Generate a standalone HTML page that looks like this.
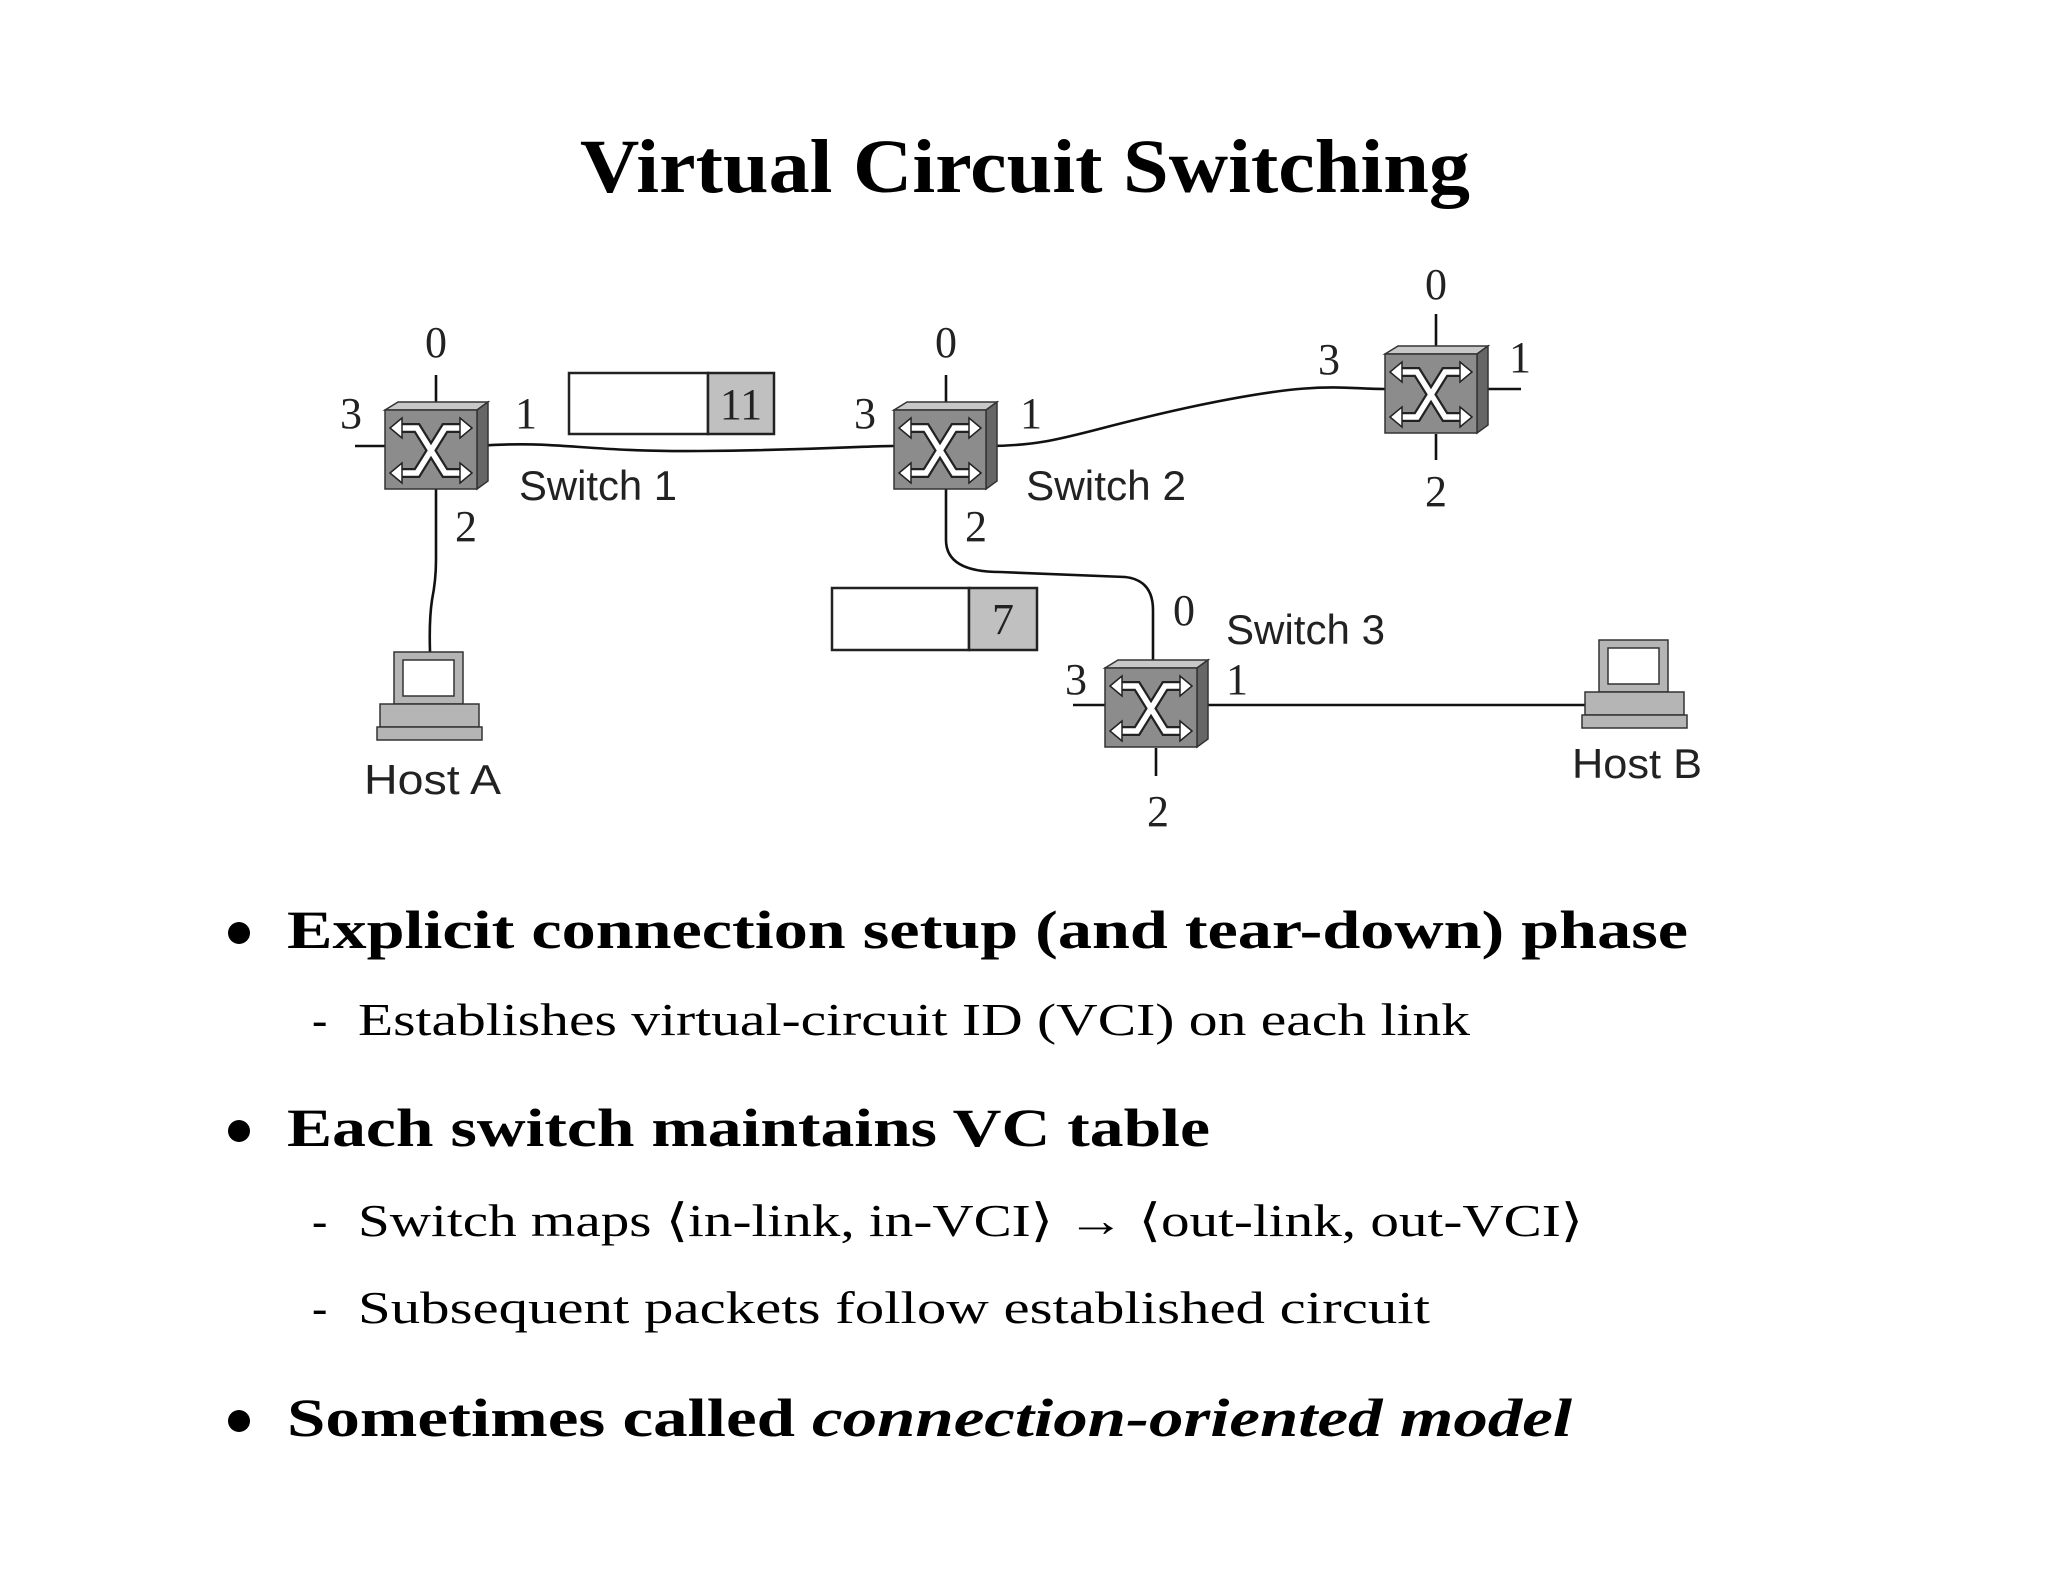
<!DOCTYPE html>
<html><head><meta charset="utf-8"><style>html,body{margin:0;padding:0;background:#fff}svg{display:block}</style></head>
<body>
<svg width="2048" height="1582" viewBox="0 0 2048 1582" xmlns="http://www.w3.org/2000/svg">
<defs>
<g id="sw">
  <polygon points="0,0 13,-8 103,-8 92,0" fill="#c8c8c8" stroke="#333" stroke-width="1.5"/>
  <polygon points="92,0 103,-8 103,71 92,79" fill="#666" stroke="#333" stroke-width="1.5"/>
  <rect x="0" y="0" width="92" height="79" fill="#8c8c8c" stroke="#333" stroke-width="1.5"/>
  <g fill="none" stroke-linejoin="miter">
    <path d="M14 18 H32 L60 63 H78 M14 63 H32 L60 18 H78" stroke="#222" stroke-width="10"/>
    <path d="M14 18 H32 L60 63 H78 M14 63 H32 L60 18 H78" stroke="#fff" stroke-width="5.5"/>
  </g>
  <g fill="#fff" stroke="#222" stroke-width="1.5">
    <polygon points="5,18 17,8 17,28"/><polygon points="87,18 75,8 75,28"/>
    <polygon points="5,63 17,53 17,73"/><polygon points="87,63 75,53 75,73"/>
  </g>
</g>
<g id="host">
  <rect x="15" y="0" width="69" height="52" fill="#b5b5b5" stroke="#333" stroke-width="1.5"/>
  <rect x="24" y="8" width="51" height="36" fill="#fff" stroke="#333" stroke-width="1.5"/>
  <rect x="1" y="52" width="99" height="23" fill="#b5b5b5" stroke="#333" stroke-width="1.5"/>
  <rect x="-2" y="75" width="105" height="13" fill="#b5b5b5" stroke="#333" stroke-width="1.5"/>
</g>
</defs>

<text x="580" y="192" font-family="'Liberation Serif',serif" font-weight="bold" font-size="76" textLength="890" lengthAdjust="spacingAndGlyphs">Virtual Circuit Switching</text>

<g stroke="#111" stroke-width="2.6" fill="none">
  <line x1="436" y1="375" x2="436" y2="402"/>
  <line x1="355" y1="446" x2="385" y2="446"/>
  <path d="M436 489 V560 Q436 580 432 600 Q429 620 430 652"/>
  <path d="M477 446 C560 440 580 452 700 451 S860 446 894 446"/>
  <line x1="946" y1="375" x2="946" y2="402"/>
  <path d="M987 446 C1060 446 1080 430 1200 405 S1340 389 1385 389"/>
  <path d="M946 489 V540 Q946 572 1000 572 L1125 577 Q1153 580 1153 610 V660"/>
  <line x1="1436" y1="314" x2="1436" y2="346"/>
  <line x1="1488" y1="389" x2="1521" y2="389"/>
  <line x1="1436" y1="434" x2="1436" y2="460"/>
  <line x1="1073" y1="705" x2="1105" y2="705"/>
  <line x1="1207" y1="705" x2="1588" y2="705"/>
  <line x1="1156" y1="748" x2="1156" y2="776"/>
</g>

<use href="#sw" x="385" y="410"/>
<use href="#sw" x="894" y="410"/>
<use href="#sw" x="1385" y="354"/>
<use href="#sw" x="1105" y="668"/>

<use href="#host" x="379" y="652"/>
<use href="#host" x="1584" y="640"/>

<rect x="569" y="373" width="139" height="61" fill="#fff" stroke="#222" stroke-width="2.5"/>
<rect x="708" y="373" width="66" height="61" fill="#c0c0c0" stroke="#222" stroke-width="2.5"/>
<rect x="832" y="588" width="137" height="62" fill="#fff" stroke="#222" stroke-width="2.5"/>
<rect x="969" y="588" width="68" height="62" fill="#c0c0c0" stroke="#222" stroke-width="2.5"/>

<g font-family="'Liberation Serif',serif" font-size="44" fill="#222" text-anchor="middle">
  <text x="741" y="419">11</text>
  <text x="1003" y="634">7</text>
  <text x="436" y="357">0</text><text x="351" y="428">3</text><text x="526" y="428">1</text><text x="466" y="541">2</text>
  <text x="946" y="357">0</text><text x="865" y="428">3</text><text x="1031" y="428">1</text><text x="976" y="541">2</text>
  <text x="1436" y="299">0</text><text x="1329" y="374">3</text><text x="1520" y="372">1</text><text x="1436" y="506">2</text>
  <text x="1184" y="625">0</text><text x="1076" y="694">3</text><text x="1237" y="694">1</text><text x="1158" y="826">2</text>
</g>
<g font-family="'Liberation Sans',sans-serif" font-size="42" fill="#222">
  <text x="519" y="500" textLength="158" lengthAdjust="spacingAndGlyphs">Switch 1</text>
  <text x="1026" y="500" textLength="160" lengthAdjust="spacingAndGlyphs">Switch 2</text>
  <text x="1226" y="644" textLength="159" lengthAdjust="spacingAndGlyphs">Switch 3</text>
  <text x="364" y="794" textLength="137" lengthAdjust="spacingAndGlyphs">Host A</text>
  <text x="1572" y="778" textLength="130" lengthAdjust="spacingAndGlyphs">Host B</text>
</g>

<g font-family="'Liberation Serif',serif" fill="#000">
  <circle cx="239" cy="933" r="11"/>
  <text x="287" y="948" font-size="54" font-weight="bold" textLength="1401" lengthAdjust="spacingAndGlyphs">Explicit connection setup (and tear-down) phase</text>
  <text x="312" y="1035" font-size="46">-</text>
  <text x="358" y="1035" font-size="46" textLength="1112" lengthAdjust="spacingAndGlyphs">Establishes virtual-circuit ID (VCI) on each link</text>
  <circle cx="239" cy="1131" r="11"/>
  <text x="287" y="1146" font-size="54" font-weight="bold" textLength="923" lengthAdjust="spacingAndGlyphs">Each switch maintains VC table</text>
  <text x="312" y="1236" font-size="46">-</text>
  <text x="358" y="1236" font-size="46" textLength="1225" lengthAdjust="spacingAndGlyphs">Switch maps ⟨in-link, in-VCI⟩ → ⟨out-link, out-VCI⟩</text>
  <text x="312" y="1323" font-size="46">-</text>
  <text x="358" y="1323" font-size="46" textLength="1072" lengthAdjust="spacingAndGlyphs">Subsequent packets follow established circuit</text>
  <circle cx="239" cy="1421" r="11"/>
  <text x="287" y="1436" font-size="54" font-weight="bold" textLength="508" lengthAdjust="spacingAndGlyphs">Sometimes called</text>
  <text x="812" y="1436" font-size="54" font-weight="bold" font-style="italic" textLength="760" lengthAdjust="spacingAndGlyphs">connection-oriented model</text>
</g>
</svg>
</body></html>
